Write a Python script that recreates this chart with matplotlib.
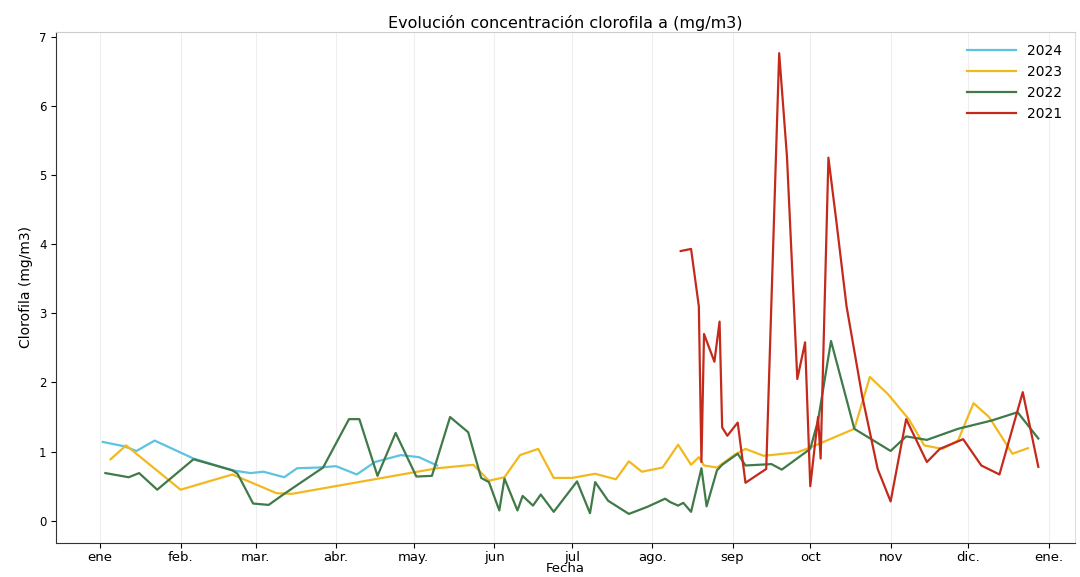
import pandas as pd
import matplotlib
matplotlib.use("Agg")
import matplotlib.pyplot as plt

# ----------------------------
# DATOS (fechas sobre un año de referencia)
# ----------------------------
fechas_2024 = ["01-02", "01-10", "01-15", "01-22", "02-06", "02-21", "02-28", "03-04",
               "03-12", "03-17", "03-25", "04-01", "04-09", "04-16", "04-26", "05-03", "05-10"]
valores_2024 = [1.14, 1.08, 1.01, 1.16, 0.90, 0.73, 0.69, 0.71,
                0.63, 0.76, 0.77, 0.79, 0.67, 0.85, 0.95, 0.92, 0.80]

fechas_2023 = ["01-05", "01-11", "02-01", "02-21", "03-09", "03-15", "05-10", "05-24",
               "05-30", "06-05", "06-11", "06-18", "06-24", "07-01", "07-10", "07-18",
               "07-23", "07-28", "08-05", "08-11", "08-16", "08-19", "08-21", "08-26",
               "09-02", "09-06", "09-13", "09-26", "10-01", "10-18", "10-24", "10-31",
               "11-08", "11-14", "11-21", "11-27", "12-03", "12-09", "12-18", "12-24"]
valores_2023 = [0.89, 1.09, 0.45, 0.67, 0.40, 0.39, 0.76, 0.81,
                0.58, 0.63, 0.95, 1.04, 0.62, 0.62, 0.68, 0.60,
                0.86, 0.71, 0.77, 1.10, 0.81, 0.92, 0.80, 0.77,
                0.96, 1.04, 0.94, 0.99, 1.06, 1.33, 2.08, 1.83,
                1.47, 1.09, 1.04, 1.16, 1.70, 1.50, 0.97, 1.05]

fechas_2022 = ["01-03", "01-12", "01-16", "01-23", "02-06", "02-21", "02-23", "02-29",
               "03-06", "03-12", "03-27", "04-06", "04-10", "04-17", "04-24", "05-02",
               "05-08", "05-15", "05-22", "05-27", "05-30", "06-03", "06-05", "06-10",
               "06-12", "06-16", "06-19", "06-24", "07-03", "07-08", "07-10", "07-15",
               "07-23", "07-30", "08-06", "08-08", "08-11", "08-13", "08-16", "08-20",
               "08-22", "08-26", "08-28", "09-03", "09-06", "09-16", "09-20", "10-01",
               "10-04", "10-09", "10-18", "11-01", "11-07", "11-15", "11-27", "12-10",
               "12-20", "12-28"]
valores_2022 = [0.69, 0.63, 0.69, 0.45, 0.89, 0.73, 0.68, 0.25,
                0.23, 0.39, 0.77, 1.47, 1.47, 0.65, 1.27, 0.64,
                0.65, 1.50, 1.28, 0.62, 0.56, 0.15, 0.61, 0.15,
                0.36, 0.22, 0.38, 0.13, 0.57, 0.11, 0.56, 0.29,
                0.10, 0.20, 0.32, 0.27, 0.22, 0.26, 0.13, 0.76,
                0.21, 0.73, 0.81, 0.97, 0.80, 0.82, 0.74, 1.04,
                1.45, 2.60, 1.33, 1.01, 1.22, 1.17, 1.33, 1.45,
                1.57, 1.19]

fechas_2021 = ["08-12", "08-16", "08-19", "08-20", "08-21", "08-25", "08-27", "08-28",
               "08-30", "09-03", "09-06", "09-14", "09-19", "09-22", "09-26", "09-29",
               "10-01", "10-04", "10-05", "10-08", "10-11", "10-15", "10-21", "10-27",
               "11-01", "11-07", "11-15", "11-20", "11-29", "12-06", "12-13", "12-22",
               "12-28"]
valores_2021 = [3.90, 3.93, 3.10, 0.85, 2.70, 2.30, 2.88, 1.35,
                1.23, 1.42, 0.55, 0.75, 6.76, 5.27, 2.05, 2.58,
                0.50, 1.50, 0.90, 5.25, 4.35, 3.10, 1.81, 0.75,
                0.28, 1.47, 0.85, 1.04, 1.18, 0.80, 0.67, 1.86,
                0.78]

meses = ["ene", "feb.", "mar.", "abr.", "may.", "jun", "jul", "ago.",
         "sep", "oct", "nov", "dic.", "ene."]

series = [
    ("2024", fechas_2024, valores_2024, "#5cc3e0"),
    ("2023", fechas_2023, valores_2023, "#f2b91e"),
    ("2022", fechas_2022, valores_2022, "#3f7a48"),
    ("2021", fechas_2021, valores_2021, "#c42a1c"),
]


def a_fecha(lista):
    # todas las series se dibujan sobre el mismo año de referencia
    return pd.to_datetime(["2024-" + f for f in lista])


# ----------------------------
# GRÁFICO
# ----------------------------
fig = plt.figure(figsize=(10.8, 5.77), dpi=100)
ax = fig.add_axes([0.052, 0.059, 0.943, 0.886])

for nombre, fechas, valores, color in series:
    ax.plot(a_fecha(fechas), valores, color=color, linewidth=1.6, label=nombre)

ticks = pd.date_range("2024-01-01", "2025-01-01", freq="MS")
ax.set_xticks(ticks)
ax.set_xticklabels(meses, fontsize=9.5)
ax.set_xlim(pd.Timestamp("2023-12-15"), pd.Timestamp("2025-01-11"))
ax.set_ylim(-0.32, 7.07)
ax.set_yticks(range(0, 8))
ax.tick_params(axis="y", labelsize=8.5)
ax.tick_params(axis="x", pad=2)

ax.grid(axis="x", color="#eeeeee", linewidth=0.8)
ax.spines["top"].set_color("#cccccc")
ax.spines["right"].set_color("#dddddd")
ax.spines["left"].set_color("#333333")
ax.spines["bottom"].set_color("#333333")

ax.set_title("Evolución concentración clorofila a (mg/m3)", fontsize=11.5, pad=3)
ax.set_xlabel("Fecha", fontsize=9.5, labelpad=-1)
ax.set_ylabel("Clorofila (mg/m3)", fontsize=10)
ax.legend(loc="upper right", frameon=False, fontsize=10, handlelength=3.5)

fig.savefig("out.png", dpi=100)
